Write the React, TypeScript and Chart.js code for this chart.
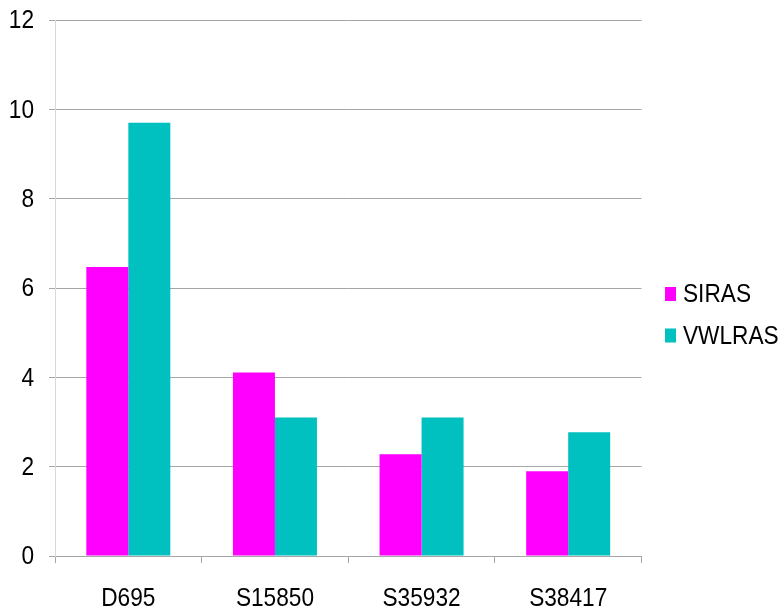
import React, { useEffect, useRef } from "react";
import { Chart, registerables } from "chart.js";

Chart.register(...registerables);

const categories = ["D695", "S15850", "S35932", "S38417"];
const sirasValues = [6.47, 4.11, 2.28, 1.9];
const vwlrasValues = [9.7, 3.1, 3.1, 2.77];
const seriesLabels = ["SIRAS", "VWLRAS"];
const seriesColors = ["#FF00FF", "#00C0C0"];

const FONT = "'Liberation Sans', Arial, sans-serif";
const FONT_SIZE = 26.5;
const SQUEEZE = 0.855;

function drawNarrow(ctx: any, text: string, x: number, y: number, align: "left" | "right" | "center") {
  ctx.save();
  ctx.translate(x, y);
  ctx.scale(SQUEEZE, 1);
  ctx.textAlign = align;
  ctx.fillText(text, 0, 0);
  ctx.restore();
}

const textPlugin = {
  id: "narrowText",
  afterDraw(chart: any) {
    const ctx = chart.ctx;
    ctx.save();
    ctx.font = `${FONT_SIZE}px ${FONT}`;
    ctx.textBaseline = "middle";
    ctx.fillStyle = "#000";
    // y tick labels
    const ys = chart.scales.y;
    ys.ticks.forEach((t: any) => {
      drawNarrow(ctx, String(t.value), 34, ys.getPixelForValue(t.value) + 1, "right");
    });
    // x tick labels
    const xs = chart.scales.x;
    chart.data.labels.forEach((lab: string, i: number) => {
      drawNarrow(ctx, lab, xs.getPixelForTick(i), 599, "center");
    });
    // legend
    chart.data.datasets.forEach((ds: any, i: number) => {
      const cy = 294 + i * 41.5;
      ctx.fillStyle = ds.backgroundColor;
      ctx.fillRect(665, cy - 7, 11, 14);
      ctx.fillStyle = "#000";
      drawNarrow(ctx, ds.label, 683, cy + 1, "left");
    });
    ctx.restore();
  },
};

export default function App() {
  const ref = useRef<HTMLCanvasElement | null>(null);
  useEffect(() => {
    if (!ref.current) return;
    const chart = new Chart(ref.current, {
      type: "bar",
      data: {
        labels: categories,
        datasets: [
          { label: seriesLabels[0], data: sirasValues, backgroundColor: seriesColors[0], borderWidth: 0 },
          { label: seriesLabels[1], data: vwlrasValues, backgroundColor: seriesColors[1], borderWidth: 0 },
        ],
      },
      options: {
        animation: false,
        responsive: false,
        maintainAspectRatio: false,
        layout: { padding: { top: 20, right: 142.5, left: 0, bottom: 0 } },
        plugins: { legend: { display: false }, tooltip: { enabled: false } },
        datasets: { bar: { categoryPercentage: 0.573, barPercentage: 1 } },
        scales: {
          x: {
            grid: {
              display: true,
              drawOnChartArea: false,
              drawTicks: true,
              tickLength: 7,
              color: "#a6a6a6",
              offset: true,
            },
            border: { display: true, color: "#a6a6a6" },
            ticks: { display: false },
            afterFit(scale: any) {
              scale.height = 58;
            },
          },
          y: {
            min: 0,
            max: 12,
            ticks: { stepSize: 2, display: false },
            grid: { color: "#a6a6a6", tickLength: 6, drawTicks: true },
            border: { display: true, color: "#d9d9d9" },
            afterFit(scale: any) {
              scale.width = 55;
            },
          },
        },
      },
      plugins: [textPlugin],
    });
    return () => chart.destroy();
  }, []);
  return (
    <div style={{ position: "fixed", left: 0, top: 0, width: 784, height: 614, background: "#fff" }}>
      <canvas ref={ref} width={784} height={614} style={{ width: 784, height: 614 }} />
    </div>
  );
}
